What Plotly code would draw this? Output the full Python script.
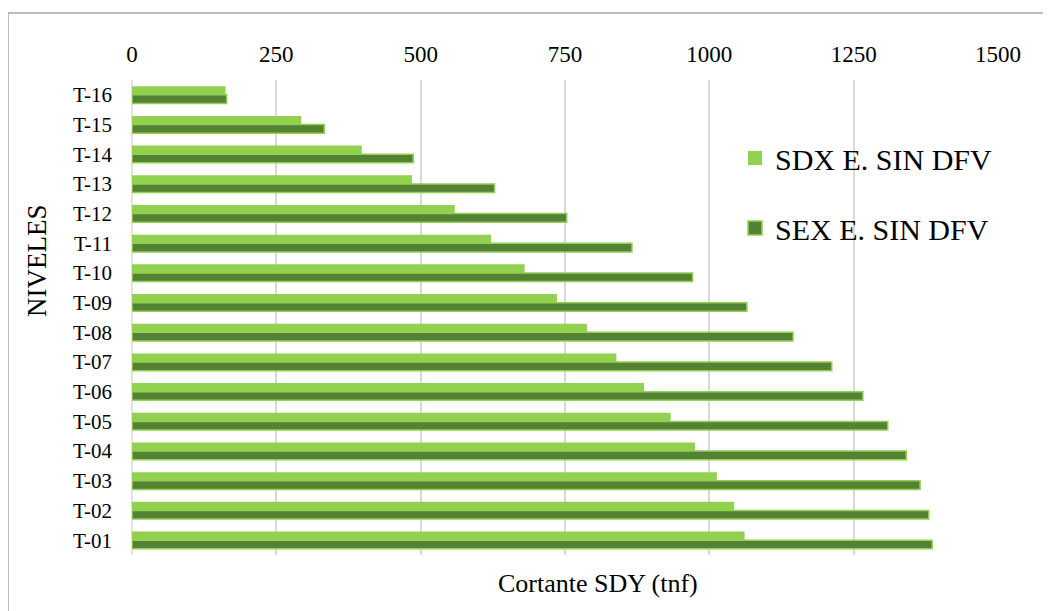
import plotly.graph_objects as go

niveles = ["T-16", "T-15", "T-14", "T-13", "T-12", "T-11", "T-10", "T-09",
           "T-08", "T-07", "T-06", "T-05", "T-04", "T-03", "T-02", "T-01"]
sdx = [162, 293, 398, 485, 559, 622, 680, 736, 788, 839, 887, 933, 975, 1013, 1043, 1061]
sex = [164, 333, 487, 628, 753, 866, 971, 1065, 1145, 1212, 1266, 1309, 1341, 1365, 1380, 1386]
x_ticks = [0, 250, 500, 750, 1000, 1250, 1500]

# page has an 8px body margin
OFF = 8
W, H = 1043, 603
L, R, T, B = 124, 53, 72, 56
pw, ph = W - L - R, H - T - B

def px(p):
    return (p - OFF - L) / pw

def py(q):
    return (H - B - (q - OFF)) / ph

LIGHT, DARK = "#92D050", "#548235"

fig = go.Figure()
fig.add_trace(go.Bar(y=niveles, x=sdx, orientation="h", name="SDX E. SIN DFV",
                     marker=dict(color=LIGHT, line=dict(color=LIGHT, width=0)),
                     showlegend=False))
fig.add_trace(go.Bar(y=niveles, x=sex, orientation="h", name="SEX E. SIN DFV",
                     marker=dict(color=DARK, line=dict(color=LIGHT, width=1.5)),
                     showlegend=False))
# legend entries with larger square swatches
fig.add_trace(go.Scatter(x=[None], y=[None], mode="markers", name="SDX E. SIN DFV",
                         marker=dict(symbol="square", size=14, color=LIGHT,
                                     line=dict(width=0)),
                         legendgroup="a", hoverinfo="skip"))
fig.add_trace(go.Scatter(x=[None], y=[None], mode="markers", name="SEX E. SIN DFV",
                         marker=dict(symbol="square", size=14, color=DARK,
                                     line=dict(color=LIGHT, width=1.5)),
                         legendgroup="b", hoverinfo="skip"))

font = "Liberation Serif"
fig.update_layout(
    width=W, height=H,
    margin=dict(l=L, r=R, t=T, b=B, autoexpand=False),
    paper_bgcolor="white", plot_bgcolor="white",
    barmode="group", bargap=0.42, bargroupgap=0,
    font=dict(family=font, color="black"),
    showlegend=True,
    legend=dict(x=px(735), y=py(132), xanchor="left", yanchor="top",
                font=dict(size=30, family=font), tracegroupgap=28,
                itemwidth=30, itemsizing="trace", bgcolor="rgba(0,0,0,0)"),
    xaxis=dict(side="top", range=[0, 1500], tickvals=x_ticks,
               tickfont=dict(size=23, family=font), showgrid=True,
               gridcolor="#D9D9D9", gridwidth=1.5, zeroline=False,
               showline=False, ticks="", ticklabelstandoff=12, automargin=False),
    yaxis=dict(autorange="reversed", tickfont=dict(size=21, family=font),
               showgrid=False, showline=False, ticks="", ticklabelstandoff=19,
               automargin=False),
)
fig.add_annotation(text="Cortante SDY (tnf)", xref="paper", yref="paper",
                   x=px(598), y=py(583), xanchor="center", yanchor="middle",
                   showarrow=False, font=dict(size=26, family=font))
fig.add_annotation(text="NIVELES", xref="paper", yref="paper",
                   x=px(37), y=py(261), xanchor="center", yanchor="middle",
                   showarrow=False, textangle=-90,
                   font=dict(size=27, family=font))
fig.add_shape(type="rect", xref="paper", yref="paper",
              x0=px(8), x1=px(1070), y0=py(13), y1=py(630),
              line=dict(color="#A6A6A6", width=1.5), layer="below")
fig.add_shape(type="line", xref="paper", yref="paper",
              x0=0, x1=0, y0=0, y1=1, line=dict(color="#D9D9D9", width=1.5), layer="below")

fig.write_html("out.html")
